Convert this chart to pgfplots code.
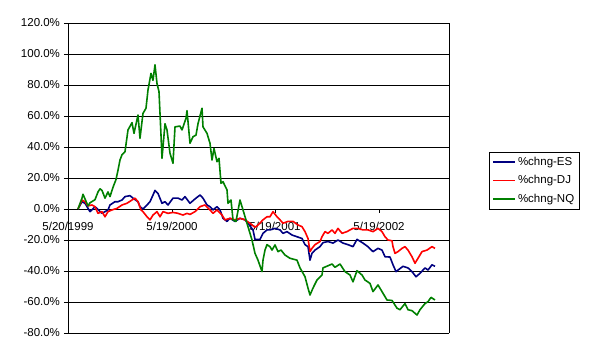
\documentclass[border=0pt]{standalone}
\usepackage{fontspec}
\setmainfont{Liberation Sans}
\usepackage{pgfplots}
\pgfplotsset{compat=1.18}
\definecolor{esblue}{RGB}{0,0,128}
\definecolor{djred}{RGB}{255,0,0}
\definecolor{nqgreen}{RGB}{0,128,0}
\begin{document}
\fontsize{11.5pt}{13pt}\selectfont
\begin{tikzpicture}
\path[use as bounding box] (-68pt,-23pt) rectangle (524pt,333pt);
\begin{axis}[
  scale only axis, width=381pt, height=310pt,
  xmin=0, xmax=381, ymin=-80, ymax=120,
  axis x line*=middle, axis y line*=box,
  hide obscured x ticks=false, hide obscured y ticks=false,
  ytick={-80,-60,...,120}, ytick pos=left, ytick align=outside,
  xtick={0,104,207,311}, xtick align=outside,
  xticklabels={5/20/1999,5/19/2000,5/19/2001,5/19/2002},
  major tick length=4pt,
  /pgf/number format/assume math mode=true,
  yticklabel={\pgfmathprintnumber[fixed,fixed zerofill,precision=1]{\tick}\%},
  tick label style={font=\fontsize{11.5pt}{13pt}\selectfont, text=black},
  xticklabel style={yshift=-5pt},
  ymajorgrids, grid style={black, line width=0.9pt},
  axis line style={black, line width=0.9pt},
  tick style={black, line width=0.9pt},
  legend style={at={(1.105,0.585)}, anchor=north west, draw=black, line width=0.8pt,
    font=\fontsize{11.5pt}{13pt}\selectfont, row sep=4.5pt, inner sep=3pt},
  legend cell align=left,
  legend image code/.code={\draw[#1] (0pt,0pt) -- (22pt,0pt);},
  every axis plot/.append style={line width=1.6pt, line join=round},
]
\addplot[esblue] coordinates {
(10,0)(14,4.7)(17,3.7)(22,-1.7)(27,1.5)(34,-2.8)(37,-1.7)(40,-0.6)(42,2.6)(47,4.7)(50,4.7)(54,5.8)(57,8)(62,8.6)(65,7)(70,4.7)(72,1.5)(75,0)(79,2.6)(82,4.7)(85,9)(87,12)(90,10)(94,3.7)(97,4.7)(100,2.6)(105,7)(110,7)(114,5.8)(117,8)(122,3.7)(127,6.5)(132,9)(135,7)(139,2.6)(142,1.5)(145,-0.6)(149,1.5)(152,-0.6)(155,-6)(159,-8)(162,-6)(167,-8)(172,-6)(177,-7)(180,-9.2)(185,-13.5)(187,-19.6)(192,-19.6)(195,-15.7)(199,-13.5)(202,-13.5)(207,-12.5)(212,-13.5)(215,-15.7)(219,-14.6)(224,-16.8)(229,-17.9)(234,-19)(237,-23)(240,-24.3)(242,-33)(244,-28.6)(247,-26.5)(252,-24.3)(255,-21.7)(260,-21)(265,-22)(270,-20)(275,-22)(280,-23)(285,-24.3)(289,-19.6)(295,-22)(300,-24.3)(305,-27.5)(310,-25.4)(314,-26.5)(317,-30.8)(322,-31)(325,-36)(328,-40.4)(330,-39.4)(335,-37)(340,-38)(344,-40.4)(348,-43.7)(352,-41.5)(357,-38)(360,-39.4)(364,-36)(367,-37)
};
\addlegendentry{\%chng-ES}
\addplot[djred] coordinates {
(10,0)(14,5.8)(17,4.7)(20,2)(24,2.6)(27,1.5)(30,-2.8)(34,-1.7)(37,-5)(40,-1.7)(44,-0.6)(49,0.4)(54,2.6)(59,3.7)(64,5.8)(67,7)(70,4.7)(73,-0.6)(75,-1.7)(79,-5)(82,-7)(85,-3.9)(89,-1.7)(92,-5)(95,-1.7)(100,-2.8)(105,-2.2)(110,-2.8)(115,-3.9)(119,-2.8)(122,-3.5)(127,-1.7)(132,1.5)(137,2.6)(142,-0.6)(145,-2.8)(149,-0.6)(154,-3.9)(157,-7)(162,-6)(167,-7)(172,-6)(177,-7)(182,-9.2)(187,-11.8)(190,-10.3)(195,-7)(199,-5)(202,-5)(205,-1.7)(209,-5)(212,-7)(215,-9.2)(220,-8)(225,-8)(230,-10.3)(234,-11.4)(237,-14.6)(240,-19)(242,-27.5)(244,-25.4)(247,-23)(252,-21)(254,-17.9)(257,-14.6)(260,-15.7)(264,-13.5)(267,-15.7)(270,-12.5)(274,-15.7)(279,-14.6)(282,-13.5)(285,-12.5)(290,-12.5)(295,-13.5)(300,-13.5)(305,-14.6)(310,-12.5)(314,-14.6)(317,-17.9)(320,-20)(324,-20.5)(325,-24.3)(327,-28.6)(330,-27.5)(334,-25.4)(337,-24.3)(340,-26.5)(344,-30.8)(347,-35)(350,-31.8)(354,-27.5)(359,-26.5)(364,-24.3)(367,-25.4)
};
\addlegendentry{\%chng-DJ}
\addplot[nqgreen] coordinates {
(10,0)(14,7)(15,9.5)(20,2)(22,4)(27,6)(30,11)(32,13)(34,12)(37,7)(40,11)(42,8)(45,14)(48,19)(50,25)(52,31.6)(54,35)(57,37)(60,51)(64,55.7)(66,48.8)(70,60.6)(72,45.6)(75,61.7)(78,65)(80,76.8)(83,87.5)(85,83)(87,93)(89,81)(91,75.7)(93,47.7)(94,32.7)(97,55)(99,51)(102,36)(105,29.5)(107,53)(112,53.5)(114,51)(118,58.5)(119,63.4)(122,42.4)(125,46.6)(128,47.7)(130,55)(134,65)(135,53)(139,48.8)(142,42.4)(144,31.6)(146,39)(149,30.5)(151,32.7)(153,16.6)(155,17.6)(159,12.3)(160,3.7)(163,5.8)(165,-7)(168,-8)(172,5.8)(175,-0.6)(180,-11.4)(184,-20)(187,-28.6)(190,-33)(194,-40.4)(195,-33)(197,-26.5)(199,-23)(202,-24.3)(204,-26.5)(207,-23.2)(210,-27.5)(213,-26.5)(217,-29.7)(222,-31.8)(229,-33)(232,-38)(237,-43.7)(240,-51)(242,-55.5)(245,-51)(249,-45.8)(254,-42.6)(255,-38)(264,-35.5)(267,-37.6)(272,-35.5)(277,-40.4)(282,-42.6)(285,-47)(289,-39.8)(294,-42.6)(297,-45.8)(302,-48)(305,-53.3)(310,-49)(314,-53.3)(319,-58.7)(324,-59)(329,-64)(332,-65)(337,-61)(340,-65)(344,-65.6)(349,-68.4)(352,-65)(357,-61)(360,-59.8)(363,-57)(367,-58.7)
};
\addlegendentry{\%chng-NQ}
\end{axis}
\end{tikzpicture}
\end{document}
